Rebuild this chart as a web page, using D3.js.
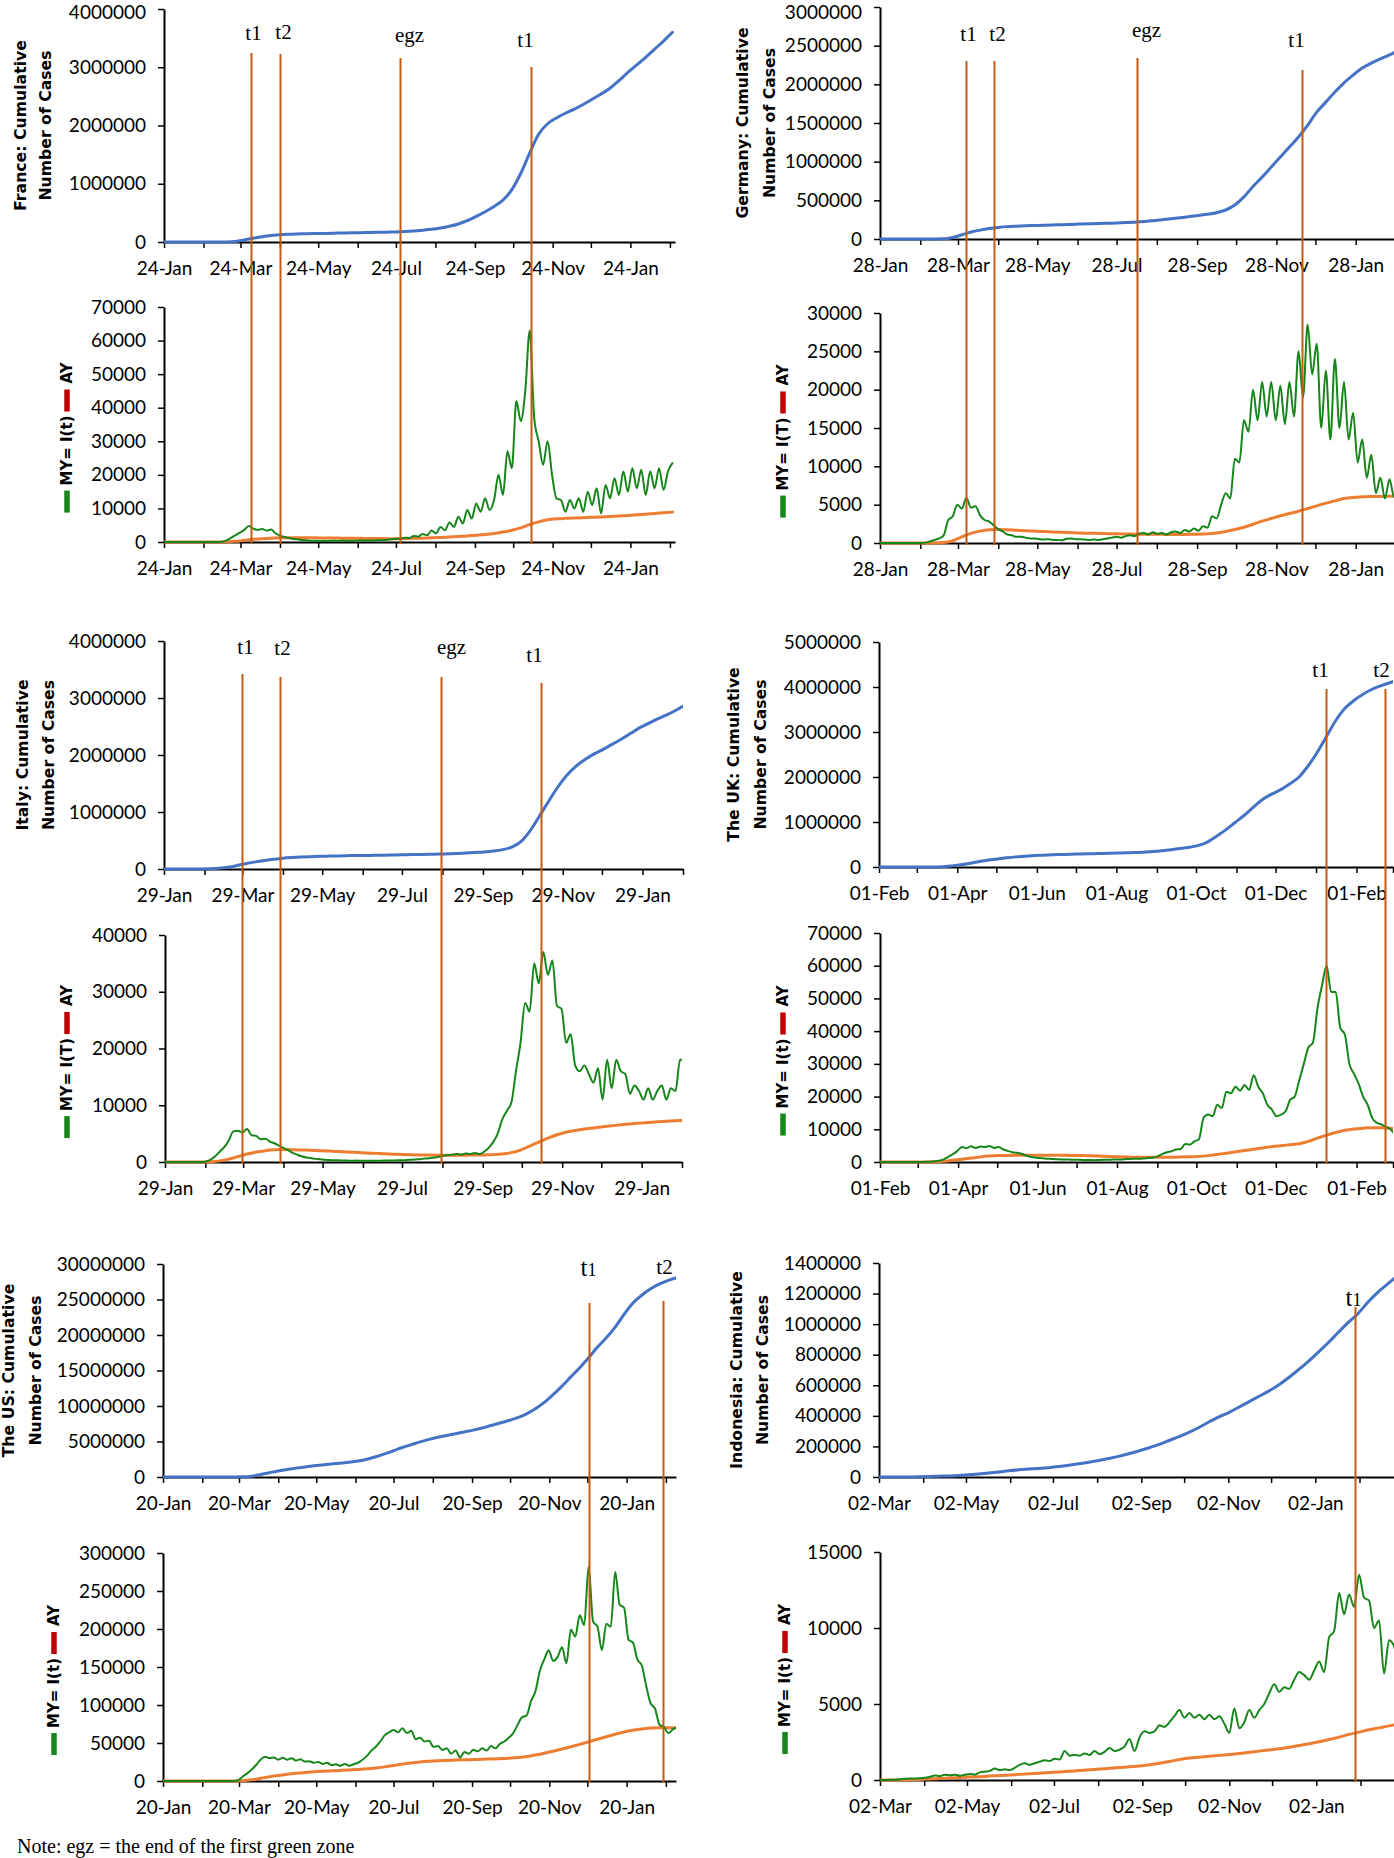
<!DOCTYPE html>
<html><head><meta charset="utf-8">
<script src="https://cdn.jsdelivr.net/npm/d3@7"></script>
<style>body{margin:0;background:#fff}svg{display:block}</style>
</head><body>
<svg id="c" width="1394" height="1858"></svg>
<script>
// ===================== DATA =====================
// Cumulative cases (thousands, or millions for the US), one value every 7 days from the start date.
// MY = I(t) (thousands), one value every 3.5 days. AY (thousands), one value every 7 days.
const franceStart = "2020-01-24", franceEnd = "2021-02-28";
const franceCumulative = [0,0,0,0,0,0,0,2,10,35, 65,90,110,125,133,138,142,145,148,151, 154,157,160,163,166,169,173,180,190,203, 218,240,270,310,365,440,520,610,720,900, 1180,1530,1850,2030,2130,2210,2280,2360,2450,2540, 2640,2770,2910,3040,3170,3310,3450,3600];
const franceMY = [0,0,0,0,0,0,0,0,0,0, 0,0,0,0.1,0.5,1.2,2.0,2.8,3.6,4.8, 4.0,3.6,3.9,3.4,3.7,2.6,1.9,1.5,1.2,0.9, 0.8,0.6,0.5,0.4,0.4,0.3,0.35,0.3,0.4,0.3, 0.45,0.35,0.4,0.35,0.5,0.4,0.5,0.45,0.6,0.5, 0.7,0.8,1.0,0.9,1.3,1.2,1.8,1.6,2.4,2.0, 3.4,2.6,4.5,3.5,5.8,4.5,7.5,5.5,9.5,7.0, 11.5,9.0,13.0,9.5,12.5,20.0,14.0,27.0,22.0,42.0, 36.0,45.0,63.0,37.0,30.0,23.0,30.0,20.0,13.0,12.5, 9.0,12.5,10.0,13.0,9.0,15.0,11.0,16.0,8.5,17.0, 13.0,19.0,14.0,21.0,15.0,22.0,16.0,21.5,14.0,21.0, 16.0,22.0,15.5,21.0,23.5];
const franceAY = [0,0,0,0,0,0,0,0.05,0.2,0.5, 0.8,1.0,1.15,1.25,1.3,1.3,1.28,1.25,1.2,1.18, 1.15,1.1,1.08,1.05,1.02,1.0,1.0,1.02,1.08,1.15, 1.25,1.35,1.5,1.65,1.8,2.0,2.25,2.55,2.95,3.5, 4.2,5.2,6.0,6.6,6.9,7.05,7.15,7.25,7.35,7.45, 7.6,7.75,7.9,8.1,8.3,8.5,8.7,8.9];
const franceMarkerNames = ["t1","t2","egz","t1"];
const franceMarkerDates = ["2020-04-01","2020-04-24","2020-07-27","2020-11-07"];
const franceCumTicks = [0,1000000,2000000,3000000,4000000];
const franceMYTicks = [0,10000,20000,30000,40000,50000,60000,70000];

const germanyStart = "2020-01-28", germanyEnd = "2021-02-28";
const germanyCumulative = [0,0,0,0,0,0,0.1,2,20,55, 90,115,135,150,160,166,171,175,179,182, 185,189,193,196,199,203,207,212,218,226, 237,249,262,275,290,305,320,340,375,440, 545,680,800,930,1060,1190,1320,1470,1640,1770, 1900,2020,2120,2210,2275,2330,2380,2440];
const germanyMY = [0,0,0,0,0,0,0,0,0,0, 0.05,0.2,0.4,0.6,1.0,3.0,3.5,5.0,4.5,5.9, 4.6,4.8,3.6,3.0,2.8,2.3,1.8,1.5,1.1,1.0, 0.8,0.8,0.7,0.6,0.6,0.5,0.45,0.5,0.4,0.4, 0.35,0.55,0.6,0.5,0.5,0.45,0.4,0.45,0.4,0.5, 0.6,0.7,0.8,0.7,0.9,1.0,0.9,1.2,1.3,1.1, 1.4,1.2,1.3,1.1,1.4,1.5,1.3,1.7,1.5,1.9, 1.6,2.2,2.0,3.5,3.2,5.0,6.5,5.8,11.0,10.5, 16.0,14.5,20.0,16.0,21.0,16.5,21.0,16.0,20.5,15.5, 21.0,16.5,25.0,19.0,28.5,22.0,26.0,15.0,22.5,13.5, 24.0,15.0,21.0,13.5,17.0,10.5,13.5,8.5,11.5,6.5, 8.5,5.8,8.3,6.0,9.0];
const germanyAY = [0,0,0,0,0,0,0,0.05,0.3,0.8, 1.25,1.55,1.72,1.75,1.72,1.65,1.6,1.55,1.5,1.45, 1.4,1.35,1.3,1.28,1.25,1.22,1.2,1.18,1.15,1.15, 1.13,1.13,1.12,1.12,1.13,1.15,1.2,1.3,1.5,1.75, 2.05,2.45,2.85,3.2,3.55,3.85,4.15,4.5,4.85,5.2, 5.5,5.8,5.95,6.02,6.06,6.08,6.1,6.12];
const germanyMarkerNames = ["t1","t2","egz","t1"];
const germanyMarkerDates = ["2020-04-03","2020-04-25","2020-08-13","2020-12-18"];
const germanyCumTicks = [0,500000,1000000,1500000,2000000,2500000,3000000];
const germanyMYTicks = [0,5000,10000,15000,20000,25000,30000];

const italyStart = "2020-01-29", italyEnd = "2021-03-01";
const italyCumulative = [0,0,0,0,1,3,12,30,60,95, 125,150,172,190,202,211,217,222,226,230, 234,236,238,240,243,246,250,253,256,259, 262,266,272,280,290,300,315,340,385,480, 670,920,1180,1430,1640,1800,1920,2020,2100,2190, 2280,2380,2480,2560,2640,2710,2790,2880];
const italyMY = [0,0,0,0,0,0,0,0,0,0.1, 0.4,1.0,1.8,2.6,3.8,5.4,5.5,5.2,5.8,4.7, 4.6,4.0,4.1,3.6,3.3,2.9,2.5,2.1,1.6,1.3, 1.0,0.8,0.7,0.55,0.5,0.4,0.35,0.3,0.3,0.25, 0.25,0.2,0.25,0.2,0.2,0.2,0.22,0.2,0.25,0.25, 0.28,0.3,0.3,0.35,0.4,0.45,0.5,0.6,0.65,0.8, 0.9,1.1,1.2,1.3,1.4,1.3,1.5,1.4,1.6,1.4, 1.8,2.5,3.5,5.0,7.5,9.0,10.5,16.0,21.0,28.0, 26.5,35.0,31.5,37.0,33.0,35.5,27.5,27.0,21.0,22.5, 17.0,16.0,17.0,15.5,14.0,16.5,11.0,18.0,13.0,18.0, 16.0,15.5,12.0,13.5,12.5,11.0,13.0,11.0,12.5,13.5, 11.0,13.0,12.5,18.0,18.0];
const italyAY = [0,0,0,0,0,0.05,0.2,0.5,0.95,1.4, 1.75,2.0,2.15,2.2,2.18,2.12,2.05,2.0,1.93,1.85, 1.77,1.7,1.6,1.52,1.45,1.38,1.32,1.28,1.25,1.22, 1.2,1.2,1.2,1.2,1.22,1.25,1.3,1.42,1.65,2.1, 2.8,3.5,4.2,4.8,5.25,5.55,5.8,6.0,6.2,6.38, 6.55,6.7,6.85,6.97,7.08,7.18,7.28,7.35];
const italyMarkerNames = ["t1","t2","egz","t1"];
const italyMarkerDates = ["2020-03-29","2020-04-27","2020-08-28","2020-11-12"];
const italyCumTicks = [0,1000000,2000000,3000000,4000000];
const italyMYTicks = [0,10000,20000,30000,40000];

const ukStart = "2020-02-01", ukEnd = "2021-03-01";
const ukCumulative = [0,0,0,0,0,0.3,2,6,25,50, 85,120,155,180,205,225,240,255,263,272, 278,284,289,294,299,304,309,315,320,330, 342,360,385,410,440,480,560,690,830,990, 1150,1330,1500,1620,1720,1850,2000,2250,2550,2900, 3250,3520,3700,3840,3950,4030,4100,4170];
const ukMY = [0,0,0,0,0,0,0,0,0,0, 0.05,0.1,0.2,0.4,0.8,1.6,2.4,3.4,4.6,4.2, 4.8,4.3,4.7,4.6,4.9,4.3,4.6,3.9,3.4,3.0, 2.8,2.5,2.0,1.6,1.4,1.2,1.1,1.0,0.9,0.85, 0.8,0.75,0.7,0.7,0.65,0.6,0.6,0.55,0.6,0.65, 0.7,0.75,0.8,0.8,0.9,0.95,1.0,1.0,1.1,1.2, 1.4,1.8,2.5,3.0,3.3,3.8,4.0,5.5,5.3,6.3, 7.0,13.5,14.5,14.0,17.5,16.5,21.5,21.0,23.0,21.8, 23.5,22.0,26.5,23.0,21.0,17.5,16.0,14.0,14.5,15.5, 19.0,20.0,25.0,30.0,35.0,36.5,47.0,54.0,60.0,52.0, 52.0,41.0,39.0,30.0,27.0,24.0,20.0,17.5,13.5,12.0, 11.5,10.8,10.0,8.5,8.0];
const ukAY = [0,0,0,0,0,0,0.05,0.2,0.5,0.85, 1.2,1.55,1.8,1.95,2.02,2.05,2.07,2.08,2.08,2.06, 2.04,2.02,1.98,1.9,1.8,1.68,1.58,1.52,1.48,1.46, 1.45,1.45,1.47,1.52,1.6,1.72,1.95,2.3,2.7,3.1, 3.5,3.9,4.3,4.7,5.0,5.3,5.6,6.3,7.3,8.2, 9.0,9.7,10.1,10.35,10.5,10.5,10.3,10.0];
const ukMarkerNames = ["t1","t2"];
const ukMarkerDates = ["2021-01-09","2021-02-23"];
const ukCumTicks = [0,1000000,2000000,3000000,4000000,5000000];
const ukMYTicks = [0,10000,20000,30000,40000,50000,60000,70000];

const usStart = "2020-01-20", usEnd = "2021-02-28";
const usCumulative = [0,0,0,0,0,0,0,0,0.005,0.02, 0.12,0.35,0.6,0.85,1.05,1.25,1.42,1.57,1.7,1.83, 1.95,2.08,2.25,2.5,2.85,3.25,3.7,4.15,4.55,4.95, 5.3,5.6,5.85,6.1,6.35,6.6,6.9,7.25,7.6,7.95, 8.35,8.9,9.6,10.5,11.6,12.8,14.1,15.4,16.8,18.3, 19.6,21.1,22.9,24.5,25.6,26.5,27.2,27.7,28.1]; // millions
const usMY = [0,0,0,0,0,0,0,0,0,0, 0,0,0,0,0,0,0,1,6,10, 15,21,28,32,30,31,28,30.5,28,30, 27,28.5,25.5,26,24,25,22.5,24,21,22, 20,22.5,20,22,24,28,33,40,45,52, 60,64,67,64,69.5,63,66,55,57,52, 53,45,46,41,43,36,40,31,38,36, 41,39,43,40,46,43,49,52,57,63, 74,84,86,105,118,145,160,172,158,163, 176,155,199,190,218,205,282,210,203,172, 207,203,275,232,228,186,182,160,152,125, 102,95,74,71,63,68,71];
const usAY = [0,0,0,0,0,0,0,0,0,0.3, 1.5,3.5,5.5,7.3,9.0,10.3,11.3,12.1,12.8,13.4, 13.9,14.5,15.2,16.1,17.2,18.6,20.5,22.2,23.8,25.0, 25.9,26.6,27.1,27.5,27.9,28.2,28.6,29.0,29.4,29.9, 30.8,32.3,34.3,36.6,39.2,42.0,45.0,48.2,51.5,55.0, 58.3,61.5,64.5,66.8,68.5,69.6,70.2,70.2,69.6];
const usMarkerNames = ["t1","t2"];
const usMarkerDates = ["2020-12-21","2021-02-18"];
const usCumTicks = [0,5000000,10000000,15000000,20000000,25000000,30000000];
const usMYTicks = [0,50000,100000,150000,200000,250000,300000];

const indonesiaStart = "2020-03-02", indonesiaEnd = "2021-03-01";
const indonesiaCumulative = [0,0.01,0.1,0.5,1.5,3,5,7,10,15, 20,26,33,41,47,52,56,61,68,77, 86,96,108,121,135,152,170,190,212,237, 262,290,322,358,392,420,455,490,525,560, 600,648,700,755,815,878,945,1010,1070,1145, 1210,1265,1320];
const indonesiaMY = [0,0,0.01,0.02,0.05,0.08,0.1,0.1,0.12,0.15, 0.2,0.3,0.25,0.35,0.3,0.35,0.28,0.35,0.4,0.35, 0.5,0.55,0.6,0.75,0.65,0.7,0.65,0.8,1.0,1.1, 1.0,1.1,1.2,1.3,1.25,1.4,1.35,1.9,1.6,1.65, 1.6,1.75,1.65,1.9,1.7,1.85,2.1,1.9,2.0,2.2, 2.7,1.9,2.8,3.2,3.1,3.2,3.6,3.5,3.8,4.2, 4.6,4.1,4.4,4.1,4.3,4.0,4.3,4.0,4.2,3.7, 3.1,4.7,3.4,3.8,4.6,4.1,4.6,5.0,5.7,6.3, 5.8,6.1,6.0,6.6,7.1,6.9,6.6,7.2,7.8,7.1, 9.4,9.8,12.3,10.9,12.2,11.4,13.5,12.0,11.8,10.0, 10.5,7.0,9.2,8.8,7.6];
const indonesiaAY = [0,0,0.01,0.02,0.04,0.07,0.1,0.13,0.16,0.19, 0.22,0.26,0.29,0.33,0.37,0.41,0.45,0.49,0.53,0.58, 0.62,0.67,0.72,0.77,0.82,0.87,0.92,1.0,1.1,1.22, 1.35,1.44,1.5,1.56,1.62,1.68,1.74,1.82,1.9,1.98, 2.06,2.16,2.27,2.39,2.52,2.66,2.82,3.0,3.15,3.3, 3.43,3.56,3.67];
const indonesiaMarkerNames = ["t1"];
const indonesiaMarkerDates = ["2021-01-30"];
const indonesiaCumTicks = [0,200000,400000,600000,800000,1000000,1200000,1400000];
const indonesiaMYTicks = [0,5000,10000,15000];

const noteText = "Note: egz = the end of the first green zone";

// ===================== STYLE / LAYOUT =====================
const BLUE = "#4472C4", ORANGE = "#ED7D31", GREEN = "#16861a", MARK = "#C55A11", RED = "#C00000";
const TICKFONT = "Lato, 'Open Sans', sans-serif";
const TITLEFONT = "'DejaVu Sans', Verdana, sans-serif";
const SERIF = "'Liberation Serif', 'Times New Roman', serif";
const DAY = 864e5;
const parse = d3.timeParse("%Y-%m-%d");
const fmt = d3.timeFormat("%d-%b");

const countries = [
  {start:franceStart,end:franceEnd,tickDay:24,cum:franceCumulative,cumUnit:1e3,my:franceMY,ay:franceAY,
   cumTicks:franceCumTicks,myTicks:franceMYTicks,mNames:franceMarkerNames,mDates:franceMarkerDates,
   title:["France: Cumulative","Number of Cases"],myLabel:"MY= I(t)",
   C:{x0:164,x1:675,y0:242,yT:9},M:{x0:164,x1:675,y0:542,yT:307},titleX:[20,45],legX:67,
   mk:{top:[53,54,58,67],dx:[2,3,9,-6],base:[40,39,42,47]}},
  {start:germanyStart,end:germanyEnd,tickDay:28,cum:germanyCumulative,cumUnit:1e3,my:germanyMY,ay:germanyAY,
   cumTicks:germanyCumTicks,myTicks:germanyMYTicks,mNames:germanyMarkerNames,mDates:germanyMarkerDates,
   title:["Germany: Cumulative","Number of Cases"],myLabel:"MY= I(T)",
   C:{x0:880,x1:1396,y0:239,yT:7},M:{x0:880,x1:1396,y0:543,yT:313},titleX:[742,769],legX:783,
   mk:{top:[61,61,58,70],dx:[2,3,9,-6],base:[41,41,37,47]}},
  {start:italyStart,end:italyEnd,tickDay:29,cum:italyCumulative,cumUnit:1e3,my:italyMY,ay:italyAY,
   cumTicks:italyCumTicks,myTicks:italyMYTicks,mNames:italyMarkerNames,mDates:italyMarkerDates,
   title:["Italy: Cumulative","Number of Cases"],myLabel:"MY= I(T)",
   C:{x0:164,x1:683,y0:869,yT:641},M:{x0:165,x1:682,y0:1162,yT:935},titleX:[22,48],legX:67,
   mk:{top:[674,677,677,683],dx:[3,2,10,-7],base:[654,655,654,662]}},
  {start:ukStart,end:ukEnd,tickDay:1,cum:ukCumulative,cumUnit:1e3,my:ukMY,ay:ukAY,
   cumTicks:ukCumTicks,myTicks:ukMYTicks,mNames:ukMarkerNames,mDates:ukMarkerDates,
   title:["The UK: Cumulative","Number of Cases"],myLabel:"MY= I(t)",
   C:{x0:879,x1:1393,y0:867,yT:642},M:{x0:880,x1:1393,y0:1162,yT:933},titleX:[733,760],legX:783,
   mk:{top:[689,689],dx:[-6,-4],base:[677,677]}},
  {start:usStart,end:usEnd,tickDay:20,cum:usCumulative,cumUnit:1e6,my:usMY,ay:usAY,
   cumTicks:usCumTicks,myTicks:usMYTicks,mNames:usMarkerNames,mDates:usMarkerDates,
   title:["The US: Cumulative","Number of Cases"],myLabel:"MY= I(t)",
   C:{x0:163,x1:676,y0:1477,yT:1264},M:{x0:163,x1:676,y0:1781,yT:1553},titleX:[8,35],legX:54,
   mk:{top:[1303,1301],dx:[-1,1],base:[1276,1274],small:[true,false]}},
  {start:indonesiaStart,end:indonesiaEnd,tickDay:2,cum:indonesiaCumulative,cumUnit:1e3,my:indonesiaMY,ay:indonesiaAY,
   cumTicks:indonesiaCumTicks,myTicks:indonesiaMYTicks,mNames:indonesiaMarkerNames,mDates:indonesiaMarkerDates,
   title:["Indonesia: Cumulative","Number of Cases"],myLabel:"MY= I(t)",
   C:{x0:879,x1:1398,y0:1477,yT:1263},M:{x0:880,x1:1399,y0:1780,yT:1552},titleX:[736,762],legX:785,
   mk:{top:[1307],dx:[-2],base:[1306],small:[true]}}
];

const svg = d3.select("#c");
svg.append("rect").attr("width",1394).attr("height",1858).attr("fill","#fff");
let clipN = 0;

function drawPanel(L, start, end, tickDay, yTicks, series) {
  const x = d3.scaleTime().domain([start, end]).range([L.x0, L.x1]);
  const y = d3.scaleLinear().domain([0, yTicks[yTicks.length-1]]).range([L.y0, L.yT]);
  const id = "clip" + (clipN++);
  svg.append("clipPath").attr("id", id).append("rect")
    .attr("x", L.x0).attr("y", L.yT - 30).attr("width", L.x1 - L.x0).attr("height", L.y0 - L.yT + 40);
  const ticks = [];
  for (let m = 0; ; m++) {
    const d = new Date(start.getFullYear(), start.getMonth() + m, tickDay);
    if (d > end) break;
    ticks.push(d);
  }
  const gx = svg.append("g").attr("transform", `translate(0,${L.y0})`)
    .call(d3.axisBottom(x).tickValues(ticks).tickFormat((d, i) => i % 2 ? "" : fmt(d))
      .tickSize(6).tickSizeOuter(0).tickPadding(14));
  const gy = svg.append("g").attr("transform", `translate(${L.x0},0)`)
    .call(d3.axisLeft(y).tickValues(yTicks).tickFormat(d3.format("d"))
      .tickSize(6).tickSizeOuter(0).tickPadding(12));
  [gx, gy].forEach(g => {
    g.attr("font-family", TICKFONT).attr("font-size", 19);
    g.select(".domain").attr("stroke", "#000").attr("stroke-width", 2);
    g.selectAll(".tick line").attr("stroke", "#000").attr("stroke-width", 1.5);
    g.selectAll(".tick text").attr("fill", "#000");
  });
  // keep the top tick label inside the picture
  gy.selectAll(".tick text").filter(d => y(d) < 12).attr("dy", d => (0.32 + (12 - y(d)) / 19) + "em");
  const lg = svg.append("g").attr("clip-path", `url(#${id})`);
  series.forEach(s => {
    const pts = s.values.map((v, i) => [new Date(start.getTime() + i * s.step * DAY), v * s.unit]);
    lg.append("path").datum(pts)
      .attr("fill", "none").attr("stroke", s.color).attr("stroke-width", s.width)
      .attr("stroke-linejoin", "round").attr("stroke-linecap", "round")
      .attr("d", d3.line().x(p => x(p[0])).y(p => y(p[1])).curve(d3.curveMonotoneX));
  });
  return x;
}

function cumTitle(lines, xs, cy) {
  lines.forEach((t, i) => {
    svg.append("text").attr("transform", `translate(${xs[i]},${cy}) rotate(-90)`)
      .attr("text-anchor", "middle").attr("dy", "0.36em")
      .attr("font-family", TITLEFONT).attr("font-weight", "bold").attr("font-size", 15.7)
      .attr("fill", "#000").text(t);
  });
}

function myLegend(label, cx, cy) {
  const g = svg.append("g").attr("transform", `translate(${cx},${cy}) rotate(-90)`);
  const barLen = 22, barW = 5.5;
  const t1 = g.append("text").attr("font-family", TITLEFONT).attr("font-weight", "bold").attr("font-size", 15)
    .attr("dy", "0.36em").attr("fill", "#000").text(label);
  const t2 = g.append("text").attr("font-family", TITLEFONT).attr("font-weight", "bold").attr("font-size", 15)
    .attr("dy", "0.36em").attr("fill", "#000").text("AY");
  const w1 = t1.node().getComputedTextLength(), w2 = t2.node().getComputedTextLength();
  const gaps = [5, 4, 6];
  const total = barLen + gaps[0] + w1 + gaps[1] + barLen + gaps[2] + w2;
  let p = -total / 2;
  g.append("rect").attr("x", p).attr("y", -barW / 2).attr("width", barLen).attr("height", barW).attr("fill", GREEN);
  p += barLen + gaps[0];
  t1.attr("x", p); p += w1 + gaps[1];
  g.append("rect").attr("x", p).attr("y", -barW / 2).attr("width", barLen).attr("height", barW).attr("fill", RED);
  p += barLen + gaps[2];
  t2.attr("x", p);
}

countries.forEach(c => {
  const start = parse(c.start), end = parse(c.end);
  const xC = drawPanel(c.C, start, end, c.tickDay, c.cumTicks,
    [{values: c.cum, step: 7, unit: c.cumUnit, color: BLUE, width: 3}]);
  drawPanel(c.M, start, end, c.tickDay, c.myTicks,
    [{values: c.ay, step: 7, unit: 1e3, color: ORANGE, width: 3},
     {values: c.my, step: 3.5, unit: 1e3, color: GREEN, width: 2}]);
  cumTitle(c.title, c.titleX, (c.C.y0 + c.C.yT) / 2);
  myLegend(c.myLabel, c.legX, (c.M.y0 + c.M.yT) / 2 + 13);
  c.mNames.forEach((name, i) => {
    const xm = Math.round(xC(parse(c.mDates[i]))) + 0.5;
    svg.append("line").attr("x1", xm).attr("x2", xm).attr("y1", c.mk.top[i]).attr("y2", c.M.y0 + 2)
      .attr("stroke", MARK).attr("stroke-width", 2);
    const t = svg.append("text").attr("x", xm + c.mk.dx[i]).attr("y", c.mk.base[i])
      .attr("text-anchor", "middle").attr("font-family", SERIF).attr("font-size", 21).attr("fill", "#000");
    if (c.mk.small && c.mk.small[i]) {
      t.append("tspan").attr("font-size", 25).text(name.slice(0, 1));
      t.append("tspan").attr("font-size", 18).text(name.slice(1));
    } else {
      t.text(name);
    }
  });
});

svg.append("text").attr("x", 17).attr("y", 1853).attr("font-family", SERIF).attr("font-size", 20)
  .attr("fill", "#000").text(noteText);
</script>
</body></html>
